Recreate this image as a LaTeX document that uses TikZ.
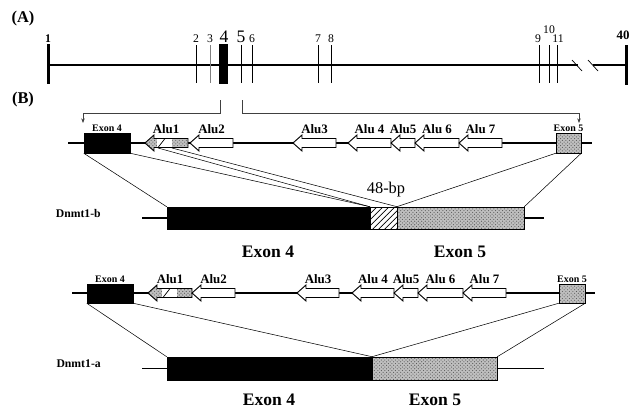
\documentclass[tikz,border=0pt]{standalone}
\usepackage{fontspec}
\setmainfont{Liberation Serif}
\usetikzlibrary{patterns,patterns.meta,arrows.meta}

\def\px{0.03cm}
\tikzset{
  exonfill/.style={draw, fill=black, inner sep=0pt},
  dotfill/.style={draw, preaction={fill=gray!50}, pattern=crosshatch dots, pattern color=gray!70!black, inner sep=0pt},
  hatchfill/.style={draw, fill=white, postaction={pattern={Lines[angle=45,distance=3.6pt,line width=0.6pt]}}, inner sep=0pt},
  alubody/.style={draw, line width=0.8pt, fill=white},
  alugray/.style={draw, line width=0.8pt, preaction={fill=gray!50}, pattern=crosshatch dots, pattern color=gray!70!black},
  geneline/.style={line width=1pt},
  mapline/.style={line width=1.4pt},
  tick/.style={line width=0.6pt},
  link/.style={line width=0.45pt},
  bracket/.style={line width=0.5pt, black!75},
  panellbl/.style={font=\bfseries\fontsize{14}{16}\selectfont},
  numlbl/.style={anchor=base, inner sep=0pt, font=\fontsize{10}{12}\selectfont},
  alulbl/.style={anchor=base, inner sep=0pt, font=\bfseries\fontsize{11}{13}\selectfont},
  smallexon/.style={anchor=base, inner sep=0pt, font=\bfseries\fontsize{8.5}{10}\selectfont},
  bigexon/.style={anchor=base, inner sep=0pt, font=\bfseries\fontsize{15}{17}\selectfont},
  formlbl/.style={anchor=base east, inner sep=0pt, font=\bfseries\fontsize{10}{12}\selectfont}
}

\begin{document}
\begin{tikzpicture}[x=\px, y=-\px]
\useasboundingbox (0,0) rectangle (631,411);
% panel labels
\node[panellbl] (pa) at (23,19) {(A)};
\node[panellbl] (pb) at (23,100) {(B)};

% (A) exon map
\draw[mapline] (48,65) -- (578,65);
\draw[mapline] (593,65) -- (626,65);
\draw[tick] (572,60) -- (582,71);
\draw[tick] (588,60) -- (598,71);
\fill (46.5,44) rectangle (50,84);
\fill (219,44) rectangle (228,84);
\fill (624.5,45) rectangle (628,85);
\foreach \x in {196,241,252,318,331,539,549,557}
  \draw[tick] (\x,45) -- (\x,83);
\draw[tick, gray] (210,45) -- (210,83);
\foreach \x/\n in {196/2,210/3,252/6,318/7,331/8,538/9,558/11}
  \node[numlbl] (num\n) at (\x,42) {\n};
\node[numlbl] (num10) at (549,33) {10};
\node[numlbl, font=\fontsize{15}{17}\selectfont] (num4) at (224,42) {4};
\node[numlbl, font=\fontsize{15}{17}\selectfont] (num5) at (241,42) {5};
\node[numlbl, font=\bfseries\fontsize{10}{12}\selectfont] (num1) at (48,42) {1};
\node[numlbl, font=\bfseries\fontsize{11}{12}\selectfont] (num40) at (623,39) {40};

% bracket from exons 4/5
\coordinate (bk4) at (220,100);
\coordinate (bk5) at (242,100);
\coordinate (tg4) at (83,123);
\coordinate (tg5) at (579,123);
\draw[bracket, -{Stealth[length=4pt,width=3pt]}] (bk4) -- ++(0,13) -| (tg4);
\draw[bracket, -{Stealth[length=4pt,width=3pt]}] (bk5) -- ++(0,13) -| (tg5);

% (B) upper genomic region
\draw[geneline] (68,143) -- (592,143);
\node[exonfill, minimum width=46*\px, minimum height=20*\px] (exfour) at (107,143) {};
\node[dotfill, minimum width=25*\px, minimum height=20*\px] (exfive) at (568.5,143) {};
\node[smallexon] (exfourlbl) at (107,131) {Exon 4};
\node[smallexon] (exfivelbl) at (568.5,131) {Exon 5};
% Alu1 with the 48-bp piece
\draw[alugray] (145,143) -- (154,135) -- (154,138.5) -- (188,138.5) -- (188,147.5) -- (154,147.5) -- (154,151) -- cycle;
\fill[white] (157,138.9) rectangle (172,147.1);
\draw[tick] (158,147.5) -- (165,138.5);
\draw[line width=0.8pt] (157,138.5) -- (172,138.5) (157,147.5) -- (172,147.5);
\node[alulbl] (aluone) at (166,133) {Alu1};
\foreach \xa/\xb/\lbl [count=\k] in {190/233/Alu2, 293/336/Alu3, 348/391/Alu 4, 391/415/Alu5, 415/459/Alu 6, 459/502/Alu 7}{
  \draw[alubody] (\xa,143) -- (\xa+9,135) -- (\xa+9,138.5) -- (\xb,138.5) -- (\xb,147.5) -- (\xa+9,147.5) -- (\xa+9,151) -- cycle;
  \node[alulbl] (alub\k) at ({(\xa+\xb)/2},133) {\lbl};
}
\coordinate (hatl) at (158,148);
\coordinate (hatr) at (172,148);

% Dnmt1-b transcript
\node[formlbl] (formb) at (101,217) {Dnmt1-b};
\node[exonfill, minimum width=203*\px, minimum height=22*\px] (blkb) at (268.5,218) {};
\node[hatchfill, minimum width=27*\px, minimum height=22*\px] (hatb) at (383.5,218) {};
\node[dotfill, minimum width=127*\px, minimum height=22*\px] (dotb) at (460.5,218) {};
\coordinate (stubbl) at (142,218);
\coordinate (stubbr) at (544,218);
\draw[geneline] (stubbl) -- (blkb.west);
\draw[geneline] (dotb.east) -- (stubbr);
\draw[link] (exfour.south west) -- (blkb.north west);
\draw[link] (exfour.south east) -- (blkb.north east);
\draw[link] (hatl) -- (hatb.north west);
\draw[link] (hatr) -- (hatb.north east);
\draw[link] (exfive.south west) -- (dotb.north west);
\draw[link] (exfive.south east) -- (dotb.north east);
\node[font=\fontsize{14}{16}\selectfont, anchor=base, inner sep=0pt] (bp) at (386,193) {48-bp};
\node[bigexon] (bfour) at (268,257) {Exon 4};
\node[bigexon] (bfive) at (460,257) {Exon 5};

% (B) lower genomic region
\draw[geneline] (72,293) -- (595,293);
\node[exonfill, minimum width=46*\px, minimum height=19*\px] (exfourb) at (110,293.5) {};
\node[dotfill, minimum width=26*\px, minimum height=19*\px] (exfiveb) at (572,293.5) {};
\node[smallexon] (exfourblbl) at (110,282) {Exon 4};
\node[smallexon] (exfiveblbl) at (572,282) {Exon 5};
\draw[alugray] (148,293) -- (157,285) -- (157,288.5) -- (192,288.5) -- (192,297.5) -- (157,297.5) -- (157,301) -- cycle;
\fill[white] (162,288.9) rectangle (177,297.1);
\draw[tick] (163,297.5) -- (170,288.5);
\draw[line width=0.8pt] (162,288.5) -- (177,288.5) (162,297.5) -- (177,297.5);
\node[alulbl] (aluoneb) at (170,283) {Alu1};
\foreach \xa/\xb/\lbl [count=\k] in {192/235/Alu2, 297/339/Alu3, 352/394/Alu 4, 394/418/Alu5, 418/463/Alu 6, 463/506/Alu 7}{
  \draw[alubody] (\xa,293) -- (\xa+9,285) -- (\xa+9,288.5) -- (\xb,288.5) -- (\xb,297.5) -- (\xa+9,297.5) -- (\xa+9,301) -- cycle;
  \node[alulbl] (aluc\k) at ({(\xa+\xb)/2},283) {\lbl};
}

% Dnmt1-a transcript
\node[formlbl] (forma) at (101,367) {Dnmt1-a};
\node[exonfill, minimum width=205*\px, minimum height=23*\px] (blka) at (269.5,368.5) {};
\node[dotfill, minimum width=125*\px, minimum height=23*\px] (dota) at (434.5,368.5) {};
\coordinate (stubal) at (142,368.5);
\coordinate (stubar) at (544,368.5);
\draw[geneline] (stubal) -- (blka.west);
\draw[geneline] (dota.east) -- (stubar);
\draw[link] (exfourb.south west) -- (blka.north west);
\draw[link] (exfourb.south east) -- (blka.north east);
\draw[link] (exfiveb.south west) -- (dota.north west);
\draw[link] (exfiveb.south east) -- (dota.north east);
\node[bigexon] (afour) at (269,405) {Exon 4};
\node[bigexon] (afive) at (435,405) {Exon 5};
\end{tikzpicture}
\end{document}
